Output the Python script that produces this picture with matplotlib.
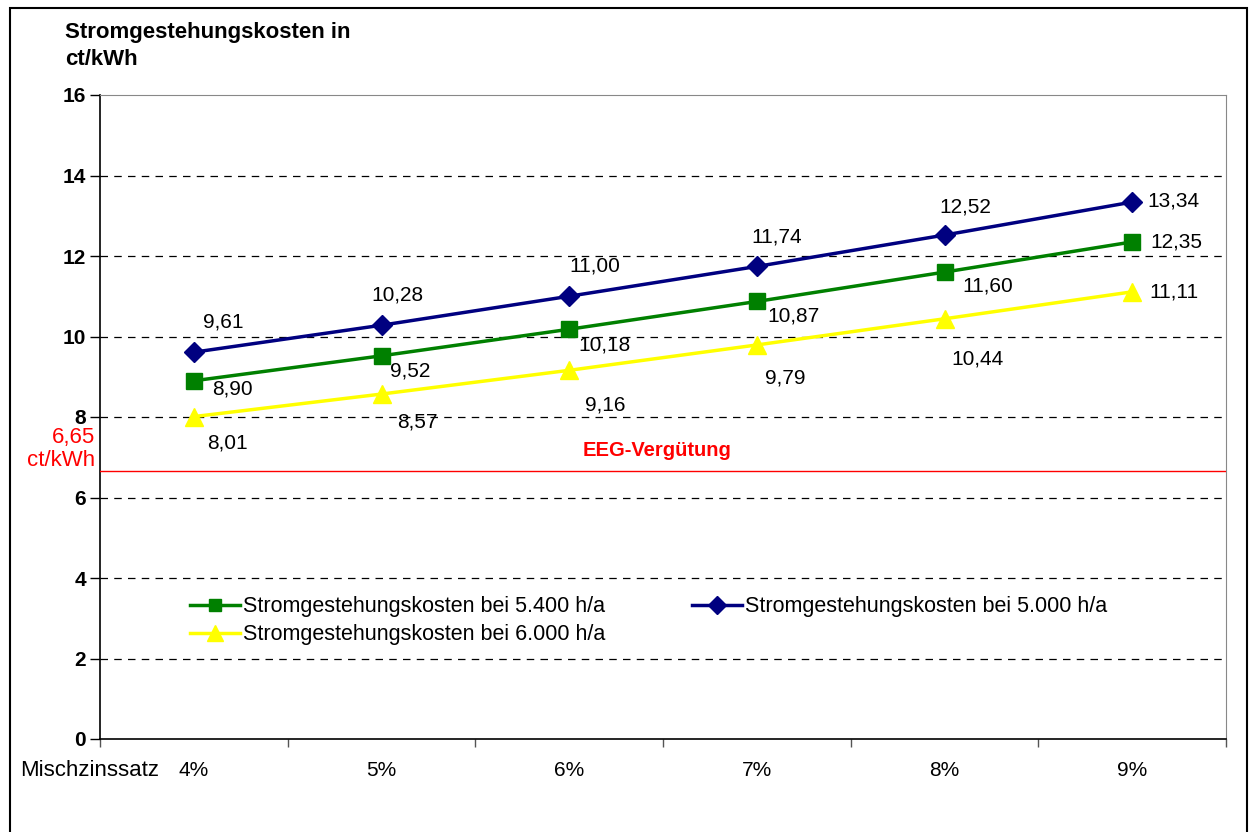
import numpy as np
import matplotlib
matplotlib.use("Agg")
import matplotlib.pyplot as plt
from matplotlib.patches import Rectangle

plt.rcParams['font.family'] = ['Liberation Sans', 'DejaVu Sans']

# data
zinssatz = ['4%', '5%', '6%', '7%', '8%', '9%']
kosten_5000 = [9.61, 10.28, 11.00, 11.74, 12.52, 13.34]
kosten_5400 = [8.90, 9.52, 10.18, 10.87, 11.60, 12.35]
kosten_6000 = [8.01, 8.57, 9.16, 9.79, 10.44, 11.11]
eeg = 6.65

# label offsets in pixels (dx, dy)
off_5000 = [(29, 30), (16, 30), (26, 30), (20, 29), (21, 28), (41, 1)]
off_5400 = [(39, -8), (29, -15), (35, -16), (37, -15), (43, -14), (44, 0)]
off_6000 = [(34, -26), (36, -28), (36, -35), (28, -33), (33, -40), (42, 0)]

fig = plt.figure(figsize=(12.52, 8.32), dpi=100)
ax = fig.add_axes([100/1252, 1-739/832, 1126/1252, 644/832])

x = np.arange(len(zinssatz))

def fmt(v):
    return ('%.2f' % v).replace('.', ',')

l1, = ax.plot(x, kosten_5400, color='#008000', lw=2.5, marker='s', ms=11,
              label='Stromgestehungskosten bei 5.400 h/a', zorder=4)
l3, = ax.plot(x, kosten_6000, color='#FFFF00', lw=2.5, marker='^', ms=13,
              label='Stromgestehungskosten bei 6.000 h/a', zorder=4)
l2, = ax.plot(x, kosten_5000, color='#000080', lw=2.5, marker='D', ms=10.5,
              label='Stromgestehungskosten bei 5.000 h/a', zorder=4)

for vals, offs in [(kosten_5000, off_5000), (kosten_5400, off_5400), (kosten_6000, off_6000)]:
    for xi, v, (dx, dy) in zip(x, vals, offs):
        ax.annotate(fmt(v), (xi, v), xytext=(dx, dy), textcoords='offset pixels',
                    ha='center', va='center', fontsize=15, zorder=5)

# EEG line
ax.axhline(eeg, color='#FF0000', lw=1, zorder=3)
ax.text(2.47, 7.16, 'EEG-Vergütung', color='#FF0000', fontweight='bold',
        fontsize=14.5, ha='center', va='center')
ax.annotate(fmt(eeg) + '\nct/kWh', (-0.5, eeg), xytext=(-5, 0), textcoords='offset pixels',
            ha='right', va='bottom', color='#FF0000', fontsize=16,
            annotation_clip=False, linespacing=1.15)

ax.set_xlim(-0.5, 5.5)
ax.set_ylim(0, 16)
ax.set_yticks(np.arange(0, 17, 2))
ax.set_yticklabels([str(v) for v in range(0, 17, 2)], fontweight='bold', fontsize=15)
ax.tick_params(axis='y', direction='out', length=7, width=1, pad=3)
ax.set_xticks(np.arange(-0.5, 6, 1))
ax.set_xticklabels([])
ax.tick_params(axis='x', which='major', direction='out', length=6, width=1, color='#555555')
ax.set_xticks(x, minor=True)
ax.set_xticklabels(zinssatz, minor=True, fontsize=15)
ax.tick_params(axis='x', which='minor', length=0, pad=16)

for yv in range(2, 16, 2):
    ax.axhline(yv, color='black', lw=0.9, ls=(0, (6, 5)), zorder=1)

ax.spines['left'].set_color('black')
ax.spines['bottom'].set_color('black')
ax.spines['top'].set_color('#888888')
ax.spines['right'].set_color('#888888')
ax.spines['left'].set_linewidth(1.2)
ax.spines['bottom'].set_linewidth(1.2)

fig.text(20/1252, 1-770/832, 'Mischzinssatz', fontsize=16, ha='left', va='center')
fig.text(65/1252, 1-22/832, 'Stromgestehungskosten in\nct/kWh', fontsize=16,
         fontweight='bold', ha='left', va='top', linespacing=1.35)

leg = ax.legend(handles=[l1, l3, l2], ncol=2, frameon=False, fontsize=15.5,
                loc='upper left', bbox_to_anchor=(0.063, 0.252),
                handlelength=2.3, columnspacing=4.05, labelspacing=0.33,
                handletextpad=0.15, markerscale=0.85)

fig.patches.append(Rectangle((10/1252, -0.1), 1237/1252, 1.1 - 8/832, transform=fig.transFigure,
                             fill=False, edgecolor='black', lw=1.5))

fig.savefig('out.png', dpi=100)
